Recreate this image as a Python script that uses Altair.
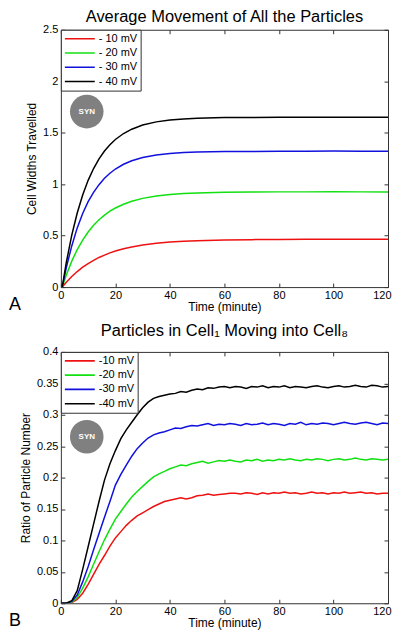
import altair as alt
import pandas as pd

FONT = "Liberation Sans"
COLORS = ["#ee1111", "#11e011", "#1111dd", "#000000"]

# ---- Panel A: average movement (cell widths travelled) ----
top_time = [0.5, 2, 4, 6, 8, 10, 12, 14, 16, 18, 20, 23, 26, 30, 35, 40, 45, 50,
            60, 70, 80, 90, 100, 110, 120]
top_labels = ["- 10 mV", "- 20 mV", "- 30 mV", "- 40 mV"]
top_red = [0, 0.047, 0.103, 0.151, 0.193, 0.229, 0.260, 0.288, 0.311, 0.332,
           0.350, 0.372, 0.390, 0.408, 0.425, 0.437, 0.446, 0.451, 0.458, 0.461,
           0.463, 0.464, 0.465, 0.465, 0.464]
top_green = [0, 0.117, 0.252, 0.364, 0.457, 0.535, 0.600, 0.654, 0.699, 0.737,
             0.768, 0.805, 0.834, 0.862, 0.885, 0.899, 0.909, 0.915, 0.921, 0.923,
             0.925, 0.925, 0.926, 0.925, 0.924]
top_blue = [0, 0.19, 0.40, 0.575, 0.715, 0.83, 0.92, 0.995, 1.057, 1.106,
            1.147, 1.193, 1.227, 1.259, 1.284, 1.298, 1.307, 1.312, 1.317, 1.318,
            1.320, 1.320, 1.321, 1.320, 1.320]
top_black = [0, 0.239, 0.505, 0.720, 0.894, 1.037, 1.152, 1.245, 1.322, 1.383,
             1.434, 1.492, 1.534, 1.574, 1.605, 1.623, 1.634, 1.640, 1.647, 1.648,
             1.650, 1.649, 1.651, 1.650, 1.650]
top_yticks = [0, 0.5, 1, 1.5, 2, 2.5]

# ---- Panel B: ratio of particles in Cell1 moving into Cell8 ----
bot_time = list(range(0, 121, 2))
bot_labels = ["-10 mV", "-20 mV", "-30 mV", "-40 mV"]
bot_red = [0, 0, 0.001, 0.006, 0.016, 0.030, 0.046, 0.062, 0.076, 0.091,
           0.104, 0.114, 0.124, 0.132, 0.139, 0.144, 0.149, 0.154, 0.158, 0.162,
           0.164, 0.166, 0.168, 0.166, 0.168, 0.171, 0.172, 0.174, 0.172, 0.173,
           0.174, 0.175, 0.175, 0.174, 0.176, 0.175, 0.173, 0.176, 0.174, 0.176,
           0.175, 0.177, 0.175, 0.176, 0.174, 0.175, 0.177, 0.175, 0.176, 0.174,
           0.176, 0.175, 0.177, 0.175, 0.176, 0.177, 0.175, 0.176, 0.174, 0.175,
           0.175]
bot_green = [0, 0, 0.002, 0.009, 0.024, 0.042, 0.062, 0.082, 0.101, 0.118,
             0.134, 0.146, 0.158, 0.169, 0.178, 0.186, 0.194, 0.201, 0.206, 0.210,
             0.214, 0.217, 0.220, 0.219, 0.222, 0.224, 0.226, 0.223, 0.225, 0.227,
             0.226, 0.228, 0.226, 0.225, 0.228, 0.227, 0.229, 0.226, 0.228, 0.227,
             0.229, 0.228, 0.230, 0.228, 0.227, 0.229, 0.228, 0.230, 0.229, 0.227,
             0.229, 0.230, 0.228, 0.229, 0.231, 0.229, 0.228, 0.230, 0.229, 0.228,
             0.229]
bot_blue = [0, 0, 0.003, 0.013, 0.034, 0.058, 0.085, 0.111, 0.137, 0.162,
            0.188, 0.205, 0.220, 0.234, 0.246, 0.255, 0.263, 0.268, 0.271, 0.273,
            0.276, 0.279, 0.278, 0.281, 0.283, 0.282, 0.284, 0.286, 0.283, 0.285,
            0.284, 0.286, 0.285, 0.283, 0.286, 0.284, 0.285, 0.287, 0.284, 0.286,
            0.285, 0.283, 0.286, 0.285, 0.288, 0.284, 0.286, 0.285, 0.287, 0.286,
            0.284, 0.286, 0.288, 0.286, 0.285, 0.287, 0.288, 0.286, 0.284, 0.287,
            0.286]
bot_black = [0, 0, 0.004, 0.020, 0.054, 0.090, 0.126, 0.162, 0.196, 0.222,
             0.243, 0.262, 0.276, 0.288, 0.300, 0.311, 0.320, 0.326, 0.329, 0.331,
             0.333, 0.334, 0.337, 0.336, 0.339, 0.341, 0.340, 0.343, 0.342, 0.344,
             0.345, 0.343, 0.345, 0.344, 0.342, 0.345, 0.344, 0.346, 0.343, 0.345,
             0.344, 0.346, 0.343, 0.345, 0.344, 0.343, 0.345, 0.346, 0.344, 0.343,
             0.345, 0.346, 0.344, 0.345, 0.347, 0.345, 0.344, 0.347, 0.346, 0.344,
             0.345]
bot_yticks = [0, 0.05, 0.1, 0.15, 0.2, 0.25, 0.3, 0.35, 0.4]

x_ticks = [0, 20, 40, 60, 80, 100, 120]


def long_df(times, labels, series):
    rows = []
    for lab, vals in zip(labels, series):
        for t, v in zip(times, vals):
            rows.append({"t": t, "v": v, "s": lab})
    return pd.DataFrame(rows)


df_top = long_df(top_time, top_labels, [top_red, top_green, top_blue, top_black])
df_bot = long_df(bot_time, bot_labels, [bot_red, bot_green, bot_blue, bot_black])

W = 328


def panel(df, labels, title, ydom, yticks, ytitle, H, letter, syn, title_offset):
    xsc = alt.Scale(domain=[0, 120], nice=False, zero=False)
    ysc = alt.Scale(domain=ydom, nice=False, zero=False)
    xax = alt.Axis(orient="bottom", values=x_ticks, title="Time (minute)",
                   ticks=False, domain=False, grid=False, labelFlush=True,
                   labelFlushOffset=3, labelPadding=2, titlePadding=1)
    yax = alt.Axis(orient="left", values=yticks, title=ytitle, format="~g",
                   ticks=False, domain=False, grid=False, labelFlush=False,
                   labelPadding=3, titlePadding=4)
    lines = alt.Chart(df).mark_line(strokeWidth=1.5, clip=True).encode(
        x=alt.X("t:Q", scale=xsc, axis=xax),
        y=alt.Y("v:Q", scale=ysc, axis=yax),
        color=alt.Color("s:N", scale=alt.Scale(domain=labels, range=COLORS),
                        sort=labels,
                        legend=alt.Legend(orient="top-left", offset=0, title=None,
                                          symbolType="stroke", symbolSize=900,
                                          symbolStrokeWidth=1.6,
                                          labelFont=FONT, labelFontSize=11,
                                          labelColor="black",
                                          strokeColor="#333", fillColor="white",
                                          padding=3, clipHeight=12, rowPadding=2.3,
                                          labelOffset=3, cornerRadius=0)),
    )
    syn_df = pd.DataFrame({"t": [syn[0]], "v": [syn[1]], "lab": ["SYN"]})
    circle = alt.Chart(syn_df).mark_circle(size=1134, color="#808080", opacity=1).encode(
        x=alt.X("t:Q", scale=xsc, axis=xax),
        y=alt.Y("v:Q", scale=ysc, axis=yax),
    )
    syn_txt = alt.Chart(syn_df).mark_text(color="white", fontSize=8, fontWeight="bold",
                                          font=FONT).encode(
        x=alt.X("t:Q", scale=xsc, axis=xax),
        y=alt.Y("v:Q", scale=ysc, axis=yax),
        text="lab:N",
    )
    let_df = pd.DataFrame({"lab": [letter]})
    let_txt = alt.Chart(let_df).mark_text(align="left", baseline="alphabetic",
                                          fontSize=18, font=FONT, color="black").encode(
        x=alt.value(-52), y=alt.value(H + 23), text="lab:N")
    main = alt.layer(circle, syn_txt, lines, let_txt)

    tick_kw = dict(labels=False, title=None, domain=False, grid=False,
                   tickSize=4, tickColor="#333")
    tb = alt.Chart(df).mark_line(strokeOpacity=0).encode(
        x=alt.X("t:Q", scale=xsc,
                axis=alt.Axis(orient="top", offset=-H, values=x_ticks, **tick_kw)),
        y=alt.Y("v:Q", scale=ysc,
                axis=alt.Axis(orient="right", offset=-W, values=yticks, **tick_kw)),
    )
    tc = alt.Chart(df).mark_line(strokeOpacity=0).encode(
        x=alt.X("t:Q", scale=xsc,
                axis=alt.Axis(orient="bottom", offset=-H, values=x_ticks, **tick_kw)),
        y=alt.Y("v:Q", scale=ysc,
                axis=alt.Axis(orient="left", offset=-W, values=yticks, **tick_kw)),
    )
    return alt.layer(main, tb, tc).resolve_scale(x="independent", y="independent").properties(
        width=W, height=H,
        title=alt.TitleParams(title, offset=title_offset, anchor="middle"))


p1 = panel(df_top, top_labels, "Average Movement of All the Particles", [0, 2.5],
           top_yticks, "Cell Widths Travelled", 258, "A", (9.5, 1.705), -2)
p2 = panel(df_bot, bot_labels, "Particles in Cell\u2081 Moving into Cell\u2088", [0, 0.4],
           bot_yticks, "Ratio of Particle Number", 252, "B", (9.5, 0.265), 6)

chart = alt.vconcat(p1, p2, spacing=8).resolve_scale(color="independent").properties(
    padding={"left": 0, "top": 0, "right": 0, "bottom": 0}
).configure_view(stroke="#333", strokeWidth=1).configure_axis(
    labelFont=FONT, titleFont=FONT, labelFontSize=11, titleFontSize=12,
    titleFontWeight="normal", labelColor="black", titleColor="black"
).configure_title(font=FONT, fontSize=16.5, fontWeight="normal", color="black")

chart.save("out.html", embed_options={"renderer": "svg", "actions": False})
